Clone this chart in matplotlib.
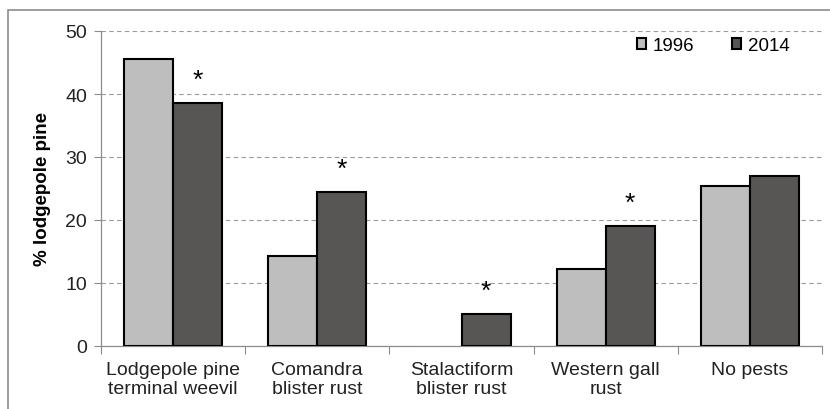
import matplotlib.pyplot as plt
import numpy as np
from matplotlib.patches import Rectangle

plt.rcParams['font.family'] = ['Liberation Sans', 'DejaVu Sans']

categories = ['Lodgepole pine\nterminal weevil', 'Comandra\nblister rust',
              'Stalactiform\nblister rust', 'Western gall\nrust', 'No pests']
pct_1996 = [45.6, 14.3, 0.0, 12.3, 25.4]
pct_2014 = [38.5, 24.4, 5.1, 19.0, 27.0]
significant = [True, True, True, True, False]

fig = plt.figure(figsize=(8.3, 4.1), dpi=100)
W, H = 830, 410
ax = fig.add_axes([101 / W, (H - 347) / H, (822 - 101) / W, (347 - 32) / H])

# grey frame round the chart (only top and left show)
fig.patches.append(Rectangle((8 / W, -0.1), 1.2, (H - 11) / H + 0.1, transform=fig.transFigure,
                             fill=False, edgecolor='#8c8c8c', linewidth=1.2))

x = np.arange(len(categories))
w = 0.34
lw_1996 = [1.5 if v > 0 else 0 for v in pct_1996]
ax.bar(x - w / 2, pct_1996, w, color='#bfbebf', edgecolor='black', linewidth=lw_1996, label='1996', zorder=3)
ax.bar(x + w / 2, pct_2014, w, color='#575655', edgecolor='black', linewidth=1.5, label='2014', zorder=3)

for xi, v, s in zip(x, pct_2014, significant):
    if s:
        ax.annotate('*', (xi + w / 2, v), xytext=(0, 8), textcoords='offset points',
                    ha='center', va='bottom', fontsize=19)

ax.set_ylim(0, 50)
ax.set_xlim(-0.5, 4.5)
ax.set_yticks(range(0, 51, 10))
ax.yaxis.grid(True, linestyle=(0, (4, 3)), color='#9a9a9a', linewidth=0.8, zorder=0)
ax.tick_params(axis='y', length=5, width=0.8, color='#8c8c8c', labelsize=14, pad=5, labelcolor='#222222')

ax.set_xticks(np.arange(-0.5, 4.6, 1))
ax.set_xticklabels([])
ax.tick_params(axis='x', which='major', length=6, width=0.8, color='#8c8c8c')
ax.set_xticks(x, minor=True)
ax.set_xticklabels(categories, minor=True, linespacing=1.1)
ax.tick_params(axis='x', which='minor', length=0, labelsize=14, pad=11, labelcolor='#222222')

for side in ['top', 'right']:
    ax.spines[side].set_visible(False)
for side in ['left', 'bottom']:
    ax.spines[side].set_color('#8c8c8c')
    ax.spines[side].set_linewidth(0.9)

ax.set_ylabel('% lodgepole pine', fontsize=13.5, fontweight='bold', labelpad=10)

ax.legend(loc='upper right', bbox_to_anchor=(0.978, 1.035), ncol=2, frameon=False, fontsize=13.5,
          handlelength=0.5, handleheight=0.5, handletextpad=0.35, columnspacing=2.0)

fig.savefig('out.png', dpi=100)
